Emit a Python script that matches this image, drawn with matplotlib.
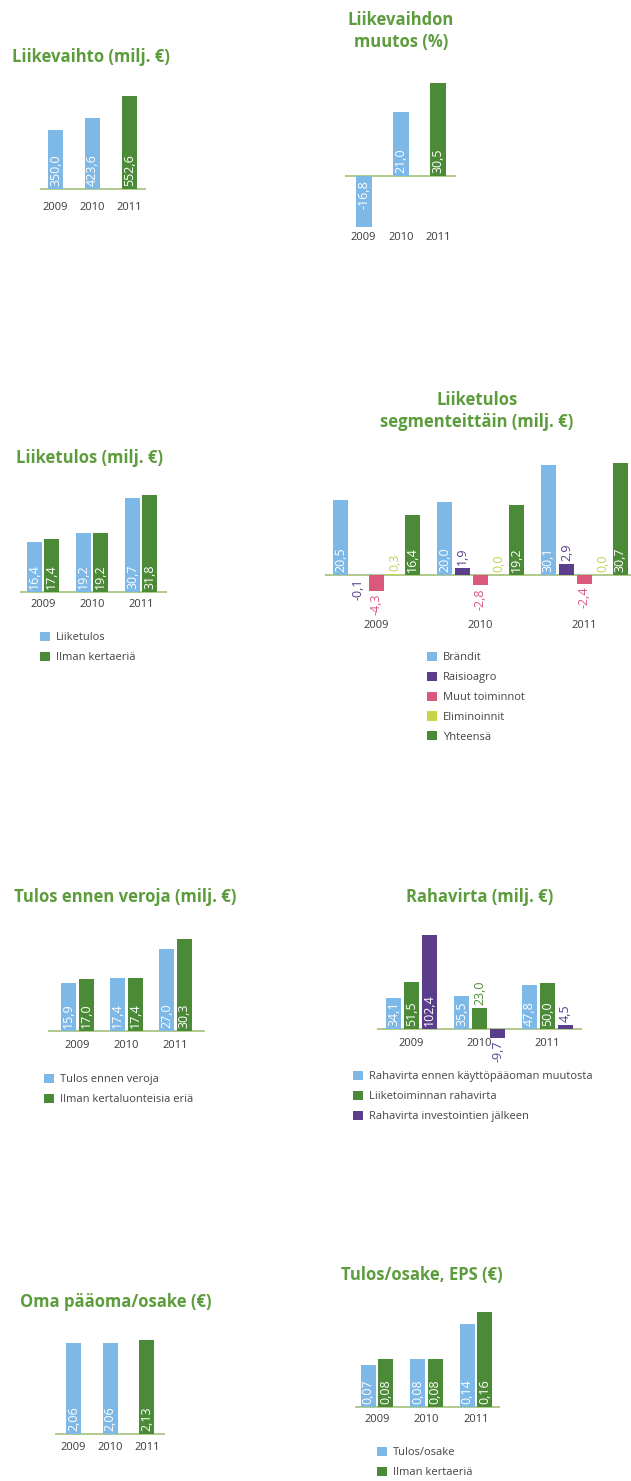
import numpy as np
import matplotlib
matplotlib.use('Agg')
import matplotlib.pyplot as plt

plt.rcParams['font.family'] = ['Open Sans', 'DejaVu Sans']

W, H = 631, 1481

# data
years = ['2009', '2010', '2011']
liikevaihto = [350.0, 423.6, 552.6]
lv_muutos = [-16.8, 21.0, 30.5]
liiketulos = [16.4, 19.2, 30.7]
liiketulos_ilman = [17.4, 19.2, 31.8]
seg_names = ['Brändit', 'Raisioagro', 'Muut toiminnot', 'Eliminoinnit', 'Yhteensä']
seg_brandit = [20.5, 20.0, 30.1]
seg_raisioagro = [-0.1, 1.9, 2.9]
seg_muut = [-4.3, -2.8, -2.4]
seg_elim = [0.3, 0.0, 0.0]
seg_yht = [16.4, 19.2, 30.7]
tulos_ev = [15.9, 17.4, 27.0]
tulos_ev_ilman = [17.0, 17.4, 30.3]
rv_names = ['Rahavirta ennen käyttöpääoman muutosta', 'Liiketoiminnan rahavirta',
            'Rahavirta investointien jälkeen']
rv_ennen = [34.1, 35.5, 47.8]
rv_liiketoim = [51.5, 23.0, 50.0]
rv_invest = [102.4, -9.7, 4.5]
oma_paaoma = [2.06, 2.06, 2.13]
eps = [0.07, 0.08, 0.14]
eps_ilman = [0.08, 0.08, 0.16]

BLUE = '#7db8e6'
GREEN = '#4b8b37'
PURPLE = '#5a3e8c'
PINK = '#d9587c'
YELLOW = '#c6d447'
TITLE = '#5d9c3c'
LINE = '#a9c682'
TXT = '#3a3a3a'

fig = plt.figure(figsize=(W / 100, H / 100), dpi=100)


def panel(left, right, top, bottom, x0, step, base, scale):
    # axes placed in pixel coords; group 0 centred at x0, one unit = step px
    ax = fig.add_axes([left / W, 1 - bottom / H, (right - left) / W, (bottom - top) / H])
    ax.set_xlim((left - x0) / step, (right - x0) / step)
    ax.set_ylim((base - bottom) / scale, (base - top) / scale)
    ax.axis('off')
    ax.axhline(0, color=LINE, lw=1.3, zorder=1)
    ax.scale = scale
    return ax


def fmt(v, dec):
    return f'{v:.{dec}f}'.replace('.', ',')


def bars(ax, x, vals, colors, width, dec=1):
    b = ax.bar(x, vals, width=width, color=colors, zorder=2, linewidth=0)
    if isinstance(colors, str):
        colors = [colors] * len(vals)
    for xi, v, c in zip(x, vals, colors):
        txt = fmt(v, dec)
        need = len(txt) * 6 + 4
        h = abs(v) * ax.scale
        kw = dict(textcoords='offset pixels', rotation=90, ha='center', fontsize=9)
        if h > need:
            if v >= 0:
                ax.annotate(txt, (xi, 0), xytext=(0, 3), va='bottom', color='white', **kw)
            else:
                ax.annotate(txt, (xi, 0), xytext=(0, -4), va='top', color='white', **kw)
        else:
            if v >= 0:
                ax.annotate(txt, (xi, v), xytext=(0, 3), va='bottom', color=c, **kw)
            else:
                ax.annotate(txt, (xi, v), xytext=(0, -3), va='top', color=c, **kw)
    return b


def year_labels(ax, x, offset):
    for xi, y in zip(x, years):
        ax.annotate(y, (xi, 0), xytext=(0, -offset), textcoords='offset pixels',
                    ha='center', va='center', color=TXT, fontsize=8)


def title(x, y, s):
    fig.text(x / W, 1 - y / H, s, ha='center', va='center', color=TITLE,
             fontsize=12, fontweight='bold', linespacing=1.35)


def legend(ax, handles, labels, x, y):
    ax.legend(handles, labels, loc='upper left', bbox_to_anchor=(x / W, 1 - y / H),
              bbox_transform=fig.transFigure, frameon=False, fontsize=8,
              handlelength=0.9, handleheight=0.9, handletextpad=0.55,
              labelspacing=0.75, borderpad=0, borderaxespad=0, labelcolor='#444444')


xg = np.arange(len(years))

# Liikevaihto
title(91, 57, 'Liikevaihto (milj. €)')
ax = panel(40, 146, 80, 215, 55.5, 37, 189, 0.168)
bars(ax, xg, liikevaihto, [BLUE, BLUE, GREEN], 15 / 37)
year_labels(ax, xg, 18)

# Liikevaihdon muutos
title(401, 31, 'Liikevaihdon\nmuutos (%)')
ax = panel(345, 456, 70, 245, 363.5, 37.3, 176, 3.05)
bars(ax, xg, lv_muutos, [BLUE, BLUE, GREEN], 16 / 37.3)
year_labels(ax, xg, 61)

# Liiketulos
title(90, 458, 'Liiketulos (milj. €)')
ax = panel(20, 167, 480, 615, 43, 49, 592, 3.05)
w = 15 / 49
b1 = bars(ax, xg - 8.5 / 49, liiketulos, BLUE, w)
b2 = bars(ax, xg + 8.5 / 49, liiketulos_ilman, GREEN, w)
year_labels(ax, xg, 13)
legend(ax, [b1, b2], ['Liiketulos', 'Ilman kertaeriä'], 40, 632)

# Liiketulos segmenteittäin
title(477, 411, 'Liiketulos\nsegmenteittäin (milj. €)')
ax = panel(325, 631, 450, 640, 376.5, 104, 575, 3.65)
w = 15 / 104
segs = [seg_brandit, seg_raisioagro, seg_muut, seg_elim, seg_yht]
scol = [BLUE, PURPLE, PINK, YELLOW, GREEN]
hs = []
for i, (s, c) in enumerate(zip(segs, scol)):
    hs.append(bars(ax, xg + (i - 2) * 18 / 104, s, c, w))
year_labels(ax, xg, 50)
legend(ax, hs, seg_names, 427, 652)

# Tulos ennen veroja
title(125, 897, 'Tulos ennen veroja (milj. €)')
ax = panel(48, 205, 920, 1060, 77.5, 49, 1031, 3.04)
w = 15 / 49
b1 = bars(ax, xg - 9 / 49, tulos_ev, BLUE, w)
b2 = bars(ax, xg + 9 / 49, tulos_ev_ilman, GREEN, w)
year_labels(ax, xg, 15)
legend(ax, [b1, b2], ['Tulos ennen veroja', 'Ilman kertaluonteisia eriä'], 44, 1074)

# Rahavirta
title(480, 897, 'Rahavirta (milj. €)')
ax = panel(377, 582, 920, 1070, 411.5, 68, 1029, 0.92)
w = 15 / 68
b1 = bars(ax, xg - 18 / 68, rv_ennen, BLUE, w)
b2 = bars(ax, xg, rv_liiketoim, GREEN, w)
b3 = bars(ax, xg + 18 / 68, rv_invest, PURPLE, w)
year_labels(ax, xg, 15)
legend(ax, [b1, b2, b3], rv_names, 353, 1071)

# Oma pääoma/osake
title(116, 1302, 'Oma pääoma/osake (€)')
ax = panel(55, 165, 1320, 1460, 73.5, 36.7, 1434, 44)
bars(ax, xg, oma_paaoma, [BLUE, BLUE, GREEN], 15 / 36.7, dec=2)
year_labels(ax, xg, 13)

# Tulos/osake, EPS
title(422, 1275, 'Tulos/osake, EPS (€)')
ax = panel(355, 500, 1295, 1430, 377, 49.5, 1407, 595)
w = 15 / 49.5
b1 = bars(ax, xg - 8.75 / 49.5, eps, BLUE, w, dec=2)
b2 = bars(ax, xg + 8.75 / 49.5, eps_ilman, GREEN, w, dec=2)
year_labels(ax, xg, 12)
legend(ax, [b1, b2], ['Tulos/osake', 'Ilman kertaeriä'], 377, 1447)

fig.savefig('out.png', dpi=100)
